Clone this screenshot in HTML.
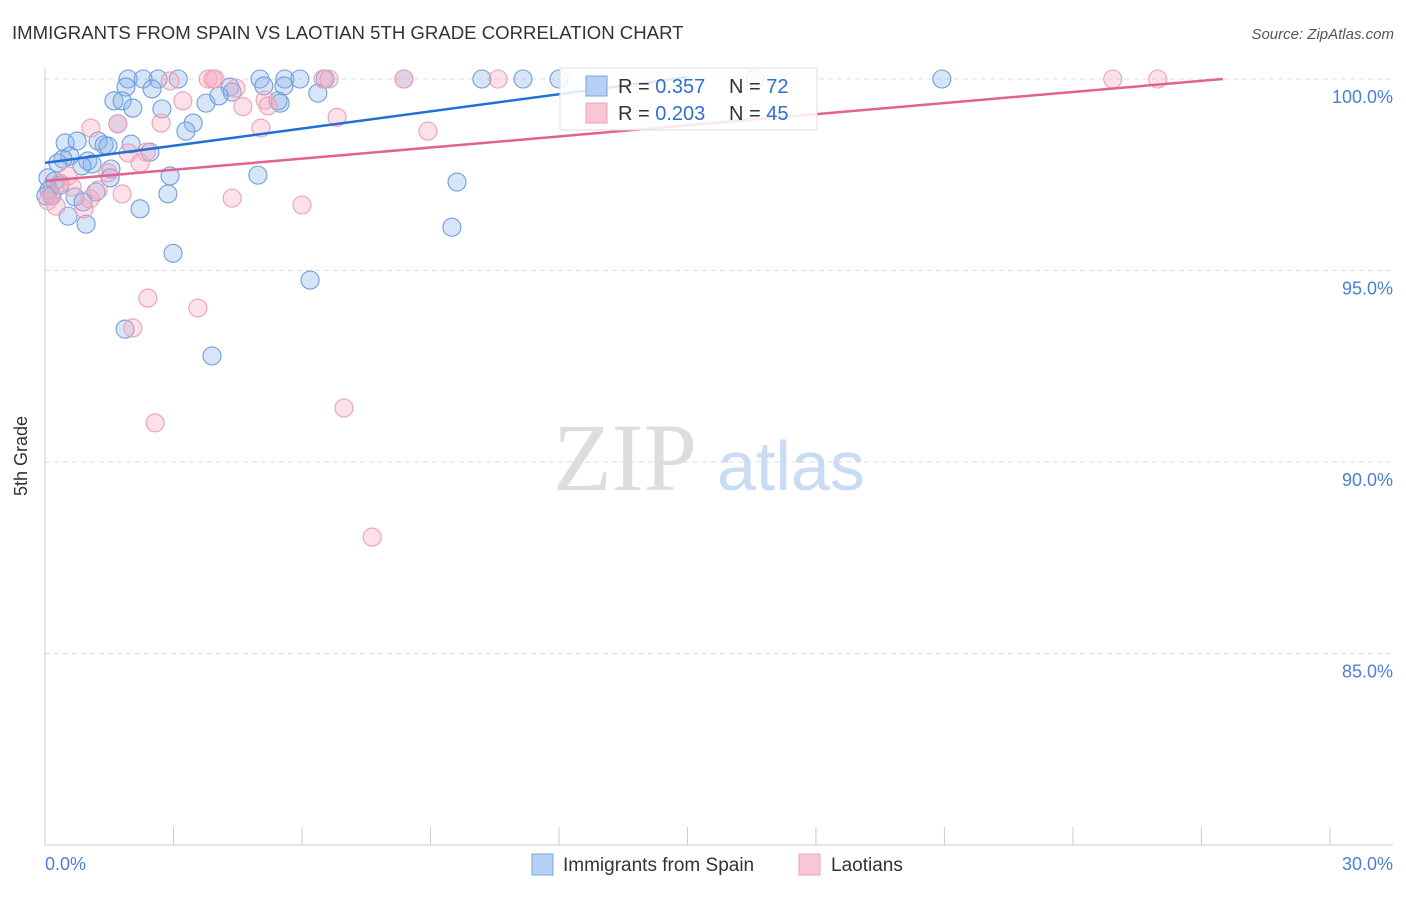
<!DOCTYPE html>
<html><head><meta charset="utf-8"><style>
body{margin:0;background:#fff;font-family:"Liberation Sans",sans-serif;}
</style></head><body>
<svg width="1406" height="892" xmlns="http://www.w3.org/2000/svg">
<text x="12" y="39" font-size="18.6" fill="#333">IMMIGRANTS FROM SPAIN VS LAOTIAN 5TH GRADE CORRELATION CHART</text>
<text x="1394" y="39" font-size="15" fill="#555" font-style="italic" text-anchor="end">Source: ZipAtlas.com</text>
<g id="grid"></g>
<line x1="45" y1="68" x2="45" y2="845" stroke="#ccc"/>
<line x1="45" y1="845" x2="1393" y2="845" stroke="#ccc"/>
<g id="xticks"></g>
<text x="27" y="456" font-size="18" fill="#333" transform="rotate(-90 27 456)" text-anchor="middle">5th Grade</text>
<text x="45" y="870" font-size="18" fill="#4a7fd6">0.0%</text>
<text x="1393" y="870" font-size="18" fill="#4a7fd6" text-anchor="end">30.0%</text>
<g><text x="553" y="490" font-size="96" font-family="Liberation Serif,serif" fill="#ddd">ZIP</text><text x="717" y="490" font-size="70" fill="#c9dcf3">atlas</text></g>
<g id="pts"></g>
<g id="lines"></g>
<g>
<rect x="560" y="68" width="257" height="62" fill="#fff" fill-opacity="0.85" stroke="#ddd"/>
<rect x="586" y="76" width="21" height="20" fill="#b6d0f3" stroke="#7aa6e0"/>
<rect x="586" y="103" width="21" height="20" fill="#f8c6d4" stroke="#eca1b8"/>
<text x="618" y="93" font-size="20" fill="#333">R = <tspan fill="#2f6fd0">0.357</tspan></text>
<text x="729" y="93" font-size="20" fill="#333">N = <tspan fill="#2f6fd0">72</tspan></text>
<text x="618" y="120" font-size="20" fill="#333">R = <tspan fill="#2f6fd0">0.203</tspan></text>
<text x="729" y="120" font-size="20" fill="#333">N = <tspan fill="#2f6fd0">45</tspan></text>
</g>
<g>
<rect x="532" y="854" width="21" height="21" fill="#b6d0f3" stroke="#7aa6e0"/>
<text x="563" y="871" font-size="19" fill="#333">Immigrants from Spain</text>
<rect x="799" y="854" width="21" height="21" fill="#f8c6d4" stroke="#eca1b8"/>
<text x="831" y="871" font-size="19" fill="#333">Laotians</text>
</g>
</svg>
<script>
const yTicks=[100,95,90,85];
const yTickLabels=["100.0%","95.0%","90.0%","85.0%"];
const xTicks=[0,3,6,9,12,15,18,21,24,27,30];
const spainX=[1.94,2.64,3.11,2.29,5.02,5.6,5.95,6.54,8.38,10.2,11.16,12.0,16.58,20.94,5.11,5.58,4.32,4.37,2.5,1.89,6.37,1.61,1.8,3.76,4.06,5.44,5.49,2.73,2.05,3.46,3.29,1.7,0.47,0.75,1.24,1.38,1.47,2.01,2.45,0.58,0.42,0.3,1.0,1.1,0.86,1.54,1.52,2.92,4.97,9.62,0.07,0.23,0.09,0.16,0.7,1.19,0.89,0.54,0.96,2.22,2.87,9.5,2.99,6.19,1.87,3.9,0.35,0.02];
const spainY=[100,100,100,100,100,100,100,100,100,100,100,100,100,100,99.82,99.82,99.79,99.66,99.74,99.79,99.63,99.43,99.43,99.37,99.56,99.43,99.37,99.22,99.24,98.85,98.64,98.83,98.33,98.38,98.38,98.28,98.25,98.3,98.09,97.99,97.91,97.81,97.86,97.78,97.73,97.65,97.42,97.47,97.49,97.31,97.42,97.34,97.1,96.95,96.92,97.05,96.79,96.42,96.21,96.61,97.0,96.13,95.45,94.75,93.47,92.77,97.23,96.95];
const laoX=[3.81,3.97,3.92,2.92,6.49,6.63,8.38,10.58,24.93,25.98,4.46,3.22,4.62,5.14,5.21,2.71,1.7,1.07,6.82,5.04,8.94,2.36,1.94,2.22,1.47,1.8,4.37,6.0,0.91,0.54,0.35,0.63,1.24,0.14,0.07,2.4,3.57,2.05,6.98,2.57,7.64,0.26,1.05];
const laoY=[100,100,100,99.95,100,100,100,100,100,100,99.76,99.43,99.28,99.45,99.3,98.85,98.83,98.72,99.0,98.72,98.64,98.09,98.07,97.81,97.55,97.0,96.89,96.71,96.61,97.47,97.28,97.18,97.1,97.0,96.82,94.28,94.02,93.5,91.41,91.02,88.04,96.68,96.87];
const spainLine=[[0,97.81],[15,100.05]];
const laoLine=[[0,97.34],[27.5,100]];
const NS="http://www.w3.org/2000/svg";
const X=v=>45+v*42.83, Y=v=>79+(100-v)*38.3;
function mk(t,a,p){const e=document.createElementNS(NS,t);for(const k in a)e.setAttribute(k,a[k]);p.appendChild(e);return e;}
const grid=document.getElementById('grid');
yTicks.forEach((t,i)=>{
 const l=mk('line',{x1:45,x2:1393,y1:Y(t),y2:Y(t),stroke:'#ddd','stroke-dasharray':'5,4'},grid);
 
 
 const tx=mk('text',{x:1393,y:Y(t)+24,'font-size':18,fill:'#4a7fd6','text-anchor':'end'},grid);
 tx.textContent=yTickLabels[i];
 
 
});
const xt=document.getElementById('xticks');
xTicks.forEach(t=>{
 const l=mk('line',{x1:X(t),x2:X(t),y1:827,y2:845,stroke:'#ccc'},xt);
 
 
});
const pts=document.getElementById('pts');
spainX.forEach((x,i)=>{
 const c=mk('circle',{cx:X(x),cy:Y(spainY[i]),r:9,fill:'rgba(140,180,235,0.35)',stroke:'#6f9ddd','stroke-width':1.1},pts);
 
 
});
laoX.forEach((x,i)=>{
 const c=mk('circle',{cx:X(x),cy:Y(laoY[i]),r:9,fill:'rgba(245,170,192,0.35)',stroke:'#eba0b6','stroke-width':1.1},pts);
 
 
});
const ln=document.getElementById('lines');
const a=mk('line',{x1:X(spainLine[0][0]),y1:Y(spainLine[0][1]),x2:X(spainLine[1][0]),y2:Y(spainLine[1][1]),stroke:'#2170d6','stroke-width':2.5},ln);


const b=mk('line',{x1:X(laoLine[0][0]),y1:Y(laoLine[0][1]),x2:X(laoLine[1][0]),y2:Y(laoLine[1][1]),stroke:'#e3628d','stroke-width':2.5},ln);


</script>
</body></html>
